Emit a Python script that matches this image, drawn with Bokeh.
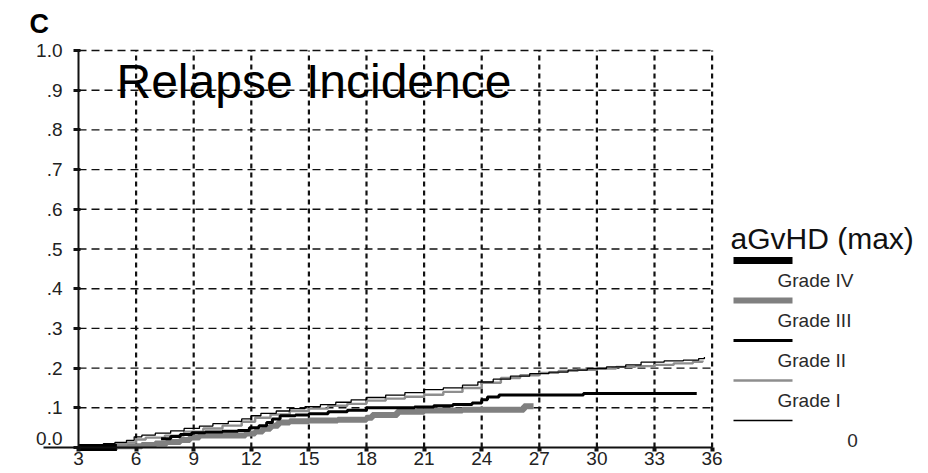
from bokeh.plotting import figure
from bokeh.models import Range1d, FixedTicker, Label, ColumnDataSource
from bokeh.core.properties import value
from bokeh.embed import file_html
from bokeh.resources import INLINE

# --- cumulative incidence of relapse by maximum acute GvHD grade (months) ---
grade0_t = [3.2, 3.8, 4.3, 4.9, 5.5, 5.9, 6.3, 7.0, 7.8, 8.5, 9.3, 10.0, 10.8, 11.5,
            12.0, 12.5, 13.3, 14.0, 14.8, 15.6, 16.4, 17.2, 18.0, 19.0, 20.0, 21.0,
            22.0, 23.0, 23.8, 24.6, 25.5, 26.5, 27.5, 28.5, 29.5, 30.5, 31.5, 32.3,
            33.5, 34.5, 35.3, 35.6]
grade0_v = [0.003, 0.006, 0.010, 0.013, 0.018, 0.027, 0.031, 0.036, 0.042, 0.048,
            0.054, 0.060, 0.066, 0.072, 0.080, 0.086, 0.092, 0.098, 0.103, 0.108,
            0.114, 0.120, 0.126, 0.132, 0.138, 0.146, 0.150, 0.157, 0.165, 0.172,
            0.180, 0.186, 0.190, 0.195, 0.199, 0.203, 0.208, 0.215, 0.218, 0.220,
            0.224, 0.228]

grade1_t = [3.6, 4.5, 5.5, 6.0, 6.5, 7.5, 8.5, 9.5, 10.5, 11.5, 12.2, 13.0, 14.0,
            15.0, 16.0, 17.0, 18.0, 19.0, 20.0, 21.0, 22.0, 23.0, 24.0, 25.0, 26.0,
            27.0, 28.0, 29.0, 30.0, 31.0, 32.0, 33.0, 34.0, 35.0, 35.5]
grade1_v = [0.003, 0.008, 0.013, 0.020, 0.025, 0.030, 0.040, 0.048, 0.055, 0.065,
            0.075, 0.083, 0.092, 0.098, 0.105, 0.110, 0.118, 0.123, 0.128, 0.133,
            0.140, 0.150, 0.163, 0.175, 0.182, 0.188, 0.193, 0.196, 0.199, 0.203,
            0.205, 0.208, 0.212, 0.216, 0.219]

grade2_t = [7.3, 7.8, 8.3, 8.9, 9.6, 10.5, 11.3, 11.9, 12.4, 12.8, 13.1, 13.5, 14.3,
            15.0, 16.0, 17.0, 18.0, 20.5, 21.5, 22.5, 23.5, 24.0, 24.3, 24.9, 29.3,
            35.2]
grade2_v = [0.022, 0.028, 0.033, 0.037, 0.039, 0.041, 0.043, 0.050, 0.055, 0.063,
            0.072, 0.080, 0.082, 0.085, 0.090, 0.094, 0.100, 0.102, 0.105, 0.108,
            0.112, 0.120, 0.127, 0.132, 0.136, 0.136]

grade3_t = [3.7, 5.0, 6.3, 7.0, 7.6, 8.3, 8.8, 9.3, 11.7, 12.2, 12.6, 13.0, 13.4,
            14.0, 15.0, 16.5, 18.0, 18.3, 19.6, 21.0, 23.0, 26.2, 26.7]
grade3_v = [0.000, 0.003, 0.006, 0.010, 0.014, 0.019, 0.025, 0.030, 0.035, 0.040,
            0.047, 0.055, 0.063, 0.066, 0.068, 0.070, 0.075, 0.082, 0.090, 0.093,
            0.095, 0.104, 0.104]

grade4_t = [3.0, 5.0]
grade4_v = [0.0, 0.0]

x_ticks = [3, 6, 9, 12, 15, 18, 21, 24, 27, 30, 33, 36]
y_ticks = [0.0, 0.1, 0.2, 0.3, 0.4, 0.5, 0.6, 0.7, 0.8, 0.9, 1.0]
y_tick_labels = ["0.0", ".1", ".2", ".3", ".4", ".5", ".6", ".7", ".8", ".9", "1.0"]

legend_title = "aGvHD (max)"
legend_labels = ["Grade IV", "Grade III", "Grade II", "Grade I", "0"]

# --- page geometry: the frame fills the canvas, axes sit at fixed locations ---
W, H = 928, 473
PX_T = 19.2          # pixels per month
PX_V = 397.0         # pixels per unit of incidence
ORIGIN_X, ORIGIN_Y = 78, 447   # canvas position of (3, 0)

x_start = 3 - ORIGIN_X / PX_T
x_end = x_start + W / PX_T
y_start = -(H - ORIGIN_Y) / PX_V
y_end = y_start + H / PX_V


def dx(px):
    return x_start + px / PX_T


def dy(py):
    return y_end - py / PX_V


FONT = "Liberation Sans"
INK = "#111111"

p = figure(width=W, height=H, output_backend="svg", toolbar_location=None,
           x_range=Range1d(x_start, x_end), y_range=Range1d(y_start, y_end),
           min_border=0, min_border_left=0, min_border_right=0,
           min_border_top=0, min_border_bottom=0)
p.outline_line_color = None
p.background_fill_color = "white"
p.border_fill_color = "white"
p.xgrid.visible = False
p.ygrid.visible = False

# dashed horizontal grid and dotted vertical grid
h_levels = [v for v in y_ticks if v > 0]
p.segment(x0=[x_ticks[0]] * len(h_levels), x1=[x_ticks[-1]] * len(h_levels),
          y0=h_levels, y1=h_levels, line_color=INK, line_width=1.4,
          line_dash="8 5")
v_levels = [t for t in x_ticks if t > x_ticks[0]]
p.segment(x0=v_levels, x1=v_levels, y0=[0] * len(v_levels),
          y1=[y_ticks[-1]] * len(v_levels), line_color=INK, line_width=2.2,
          line_dash="5 4")

# axes
xa = p.xaxis[0]
xa.fixed_location = 0
xa.bounds = (dx(43), x_ticks[-1])
xa.ticker = FixedTicker(ticks=x_ticks)
xa.minor_tick_line_color = None
xa.major_tick_in = 0
xa.major_tick_out = 4
xa.major_tick_line_width = 4
xa.major_tick_line_color = INK
xa.axis_line_width = 2
xa.axis_line_color = INK
xa.major_label_text_font = FONT
xa.major_label_text_font_size = "19px"
xa.major_label_text_color = "#222222"
xa.major_label_standoff = 0

ya = p.yaxis[0]
ya.fixed_location = 3
ya.bounds = (0, 1)
ya.ticker = FixedTicker(ticks=y_ticks)
# the zero label sits just above the extended baseline, drawn separately below
ya.major_label_overrides = {v: (s if v > 0 else "")
                            for v, s in zip(y_ticks, y_tick_labels)}
ya.minor_tick_line_color = None
ya.major_tick_in = 2
ya.major_tick_out = 5
ya.major_tick_line_width = 3
ya.major_tick_line_color = INK
ya.axis_line_width = 2
ya.axis_line_color = INK
ya.major_label_text_font = FONT
ya.major_label_text_font_size = "19px"
ya.major_label_text_color = "#222222"
ya.major_label_standoff = 11

p.add_layout(Label(x=dx(62), y=dy(438), text=y_tick_labels[0], text_font=FONT,
                   text_font_size="19px", text_color="#222222",
                   text_align="right", text_baseline="middle"))

# curves
GRAY_THICK = "#808080"
GRAY_THIN = "#8e8e8e"
styles = {
    "Grade IV": dict(line_color="black", line_width=7),
    "Grade III": dict(line_color=GRAY_THICK, line_width=6),
    "Grade II": dict(line_color="black", line_width=3),
    "Grade I": dict(line_color=GRAY_THIN, line_width=2.4),
    "0": dict(line_color="black", line_width=1.3),
}
series = {
    "Grade IV": (grade4_t, grade4_v),
    "Grade III": (grade3_t, grade3_v),
    "Grade II": (grade2_t, grade2_v),
    "Grade I": (grade1_t, grade1_v),
    "0": (grade0_t, grade0_v),
}
for name in ["Grade III", "Grade I", "Grade II", "0", "Grade IV"]:
    t, v = series[name]
    p.step(x=t, y=v, mode="after", **styles[name])

# legend: swatch rows with the label set below and to the right
sw_x0, sw_x1 = dx(733), dx(792)
row_top, row_gap = 260, 40.0
for i, name in enumerate(legend_labels):
    ys = dy(row_top + i * row_gap)
    p.line(x=[sw_x0, sw_x1], y=[ys, ys], **styles[name])

lab_src = ColumnDataSource(dict(
    x=[dx(777)] * 4 + [dx(852)],
    y=[dy(row_top + 20 + i * row_gap) for i in range(len(legend_labels))],
    text=legend_labels,
    align=["left"] * 4 + ["center"],
))
p.text(x="x", y="y", text="text", source=lab_src, text_align="align",
       text_baseline="middle", text_font=value(FONT), text_font_size="19px",
       text_color="#2a2a2a")

p.add_layout(Label(x=dx(730), y=dy(238), text=legend_title, text_font=FONT,
                   text_font_size="30px", text_color=INK,
                   text_baseline="middle", text_align="left"))

# chart heading and panel letter
p.add_layout(Label(x=dx(116), y=dy(81), text="Relapse Incidence",
                   text_font=FONT, text_font_size="48px", text_color="black",
                   text_baseline="middle", text_align="left"))
p.add_layout(Label(x=dx(29), y=dy(23), text="C", text_font=FONT,
                   text_font_size="27px", text_font_style="bold",
                   text_color="black", text_baseline="middle",
                   text_align="left"))

open("out.html", "w").write(file_html(p, INLINE))
